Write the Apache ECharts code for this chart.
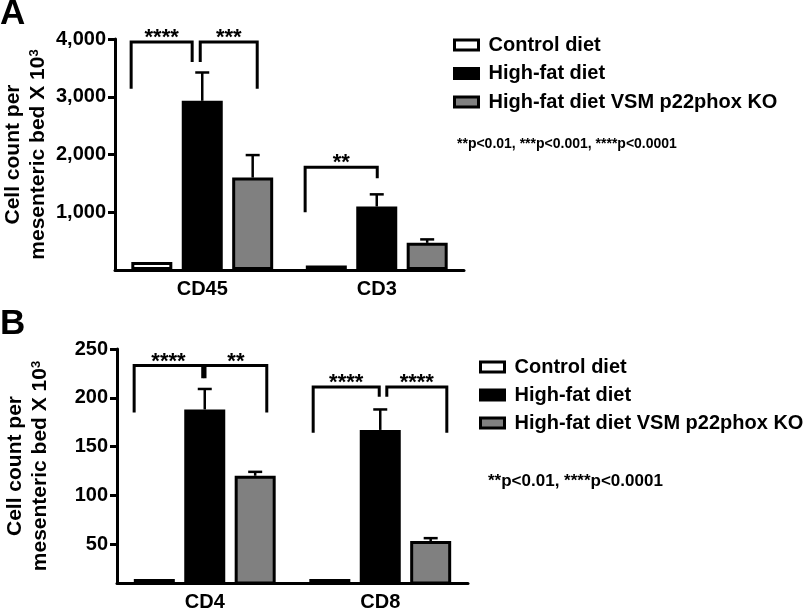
<!DOCTYPE html>
<html>
<head>
<meta charset="utf-8">
<script src="https://cdn.jsdelivr.net/npm/echarts@6/dist/echarts.min.js"></script>
<style>html,body{margin:0;padding:0;background:#fff}#c{width:805px;height:610px}</style>
</head>
<body>
<div id="c"></div>
<script>
// ---------------- data ----------------
const seriesNames = ['Control diet', 'High-fat diet', 'High-fat diet VSM p22phox KO'];

const categoriesA = ['CD45', 'CD3'];
const controlA = [140, 80];
const highFatA = [2930, 1100];
const koA = [1600, 470];
const highFatErrA = [490, 210];
const koErrA = [390, 60];
const ticksA = [1000, 2000, 3000, 4000];

const categoriesB = ['CD4', 'CD8'];
const controlB = [14, 14];
const highFatB = [188, 167];
const koB = [120, 53];
const highFatErrB = [21, 21];
const koErrB = [4, 3];
const ticksB = [50, 100, 150, 200, 250];

// significance brackets: [category, top value, left leg end, right leg end]
const bracketsA = [[0, 3950, 3140, 3600], [0, 3950, 3600, 3140], [1, 1780, 1000, 1590]];
const bracketLabelsA = ['****', '***', '**'];
const bracketsB = [[0, 233, 185, 220], [0, 233, 220, 185], [1, 211, 164, 201], [1, 211, 201, 164]];
const bracketLabelsB = ['****', '**', '****', '****'];

const pTextA = '**p<0.01, ***p<0.001, ****p<0.0001';
const pTextB = '**p<0.01, ****p<0.0001';

// ---------------- layout / style ----------------
const FONT = '"Liberation Sans", Arial, Helvetica, sans-serif';
const BAR_W = 41;
const BAR_GAP = 0.23;
const SLOT = BAR_W * (1 + BAR_GAP);
// bracket leg x positions, in bar-slot units relative to category centre
const bracketXA = [[-1.41, -0.2], [-0.04, 1.09], [-1.42, 0.01]];
const bracketXB = [[-1.40, -0.04], [0.005, 1.23], [-1.33, -0.02], [0.13, 1.32]];
const colors = ['#ffffff', '#000000', '#808080'];

function bracketRender(xs, labels) {
  return function (params, api) {
    const i = params.dataIndex;
    const cat = api.value(0);
    const top = api.coord([cat, api.value(1)]);
    const yl = api.coord([cat, api.value(2)])[1];
    const yr = api.coord([cat, api.value(3)])[1];
    const xl = top[0] + xs[i][0] * SLOT;
    const xr = top[0] + xs[i][1] * SLOT;
    return {
      type: 'group',
      children: [
        { type: 'polyline', shape: { points: [[xl, yl], [xl, top[1]], [xr, top[1]], [xr, yr]] },
          style: { stroke: '#000', lineWidth: 3, fill: null, lineJoin: 'miter' } },
        { type: 'text', x: (xl + xr) / 2, y: top[1] + 7,
          style: { text: labels[i], font: 'bold 22px ' + FONT, fill: '#000', align: 'center', verticalAlign: 'bottom' } }
      ]
    };
  };
}

function errRender(slotIndex) {
  return function (params, api) {
    const cat = api.value(0);
    const p0 = api.coord([cat, api.value(1)]);
    const p1 = api.coord([cat, api.value(1) + api.value(2)]);
    const x = p0[0] + (slotIndex - 1) * SLOT;
    return {
      type: 'group',
      children: [
        { type: 'line', shape: { x1: x, y1: p0[1], x2: x, y2: p1[1] }, style: { stroke: '#000', lineWidth: 2.5 } },
        { type: 'line', shape: { x1: x - 7, y1: p1[1], x2: x + 7, y2: p1[1] }, style: { stroke: '#000', lineWidth: 2.5 } }
      ]
    };
  };
}

function yAxis(gi, max, min, ticks, fmt) {
  return {
    type: 'value', gridIndex: gi, min: min, max: max,
    axisLine: { show: true, lineStyle: { color: '#000', width: 3 } },
    axisTick: { show: true, length: 7, lineStyle: { color: '#000', width: 3 }, customValues: ticks },
    axisLabel: { customValues: ticks, formatter: fmt, fontFamily: FONT, fontWeight: 'bold', fontSize: 20, color: '#000', margin: 9 },
    splitLine: { show: false },
    name: 'Cell count per\nmesenteric bed X 10{sup|3}',
    nameLocation: 'middle', nameRotate: 90, nameGap: 64,
    nameTextStyle: {
      fontFamily: FONT, fontWeight: 'bold', fontSize: 21, color: '#000', lineHeight: 25, align: 'center',
      rich: { sup: { fontFamily: FONT, fontWeight: 'bold', fontSize: 13, color: '#000', padding: [0, 0, 9, 0] } }
    }
  };
}

function xAxis(gi, cats) {
  return {
    type: 'category', gridIndex: gi, data: cats,
    axisLine: { show: true, lineStyle: { color: '#000', width: 3 } },
    axisTick: { show: false },
    axisLabel: { fontFamily: FONT, fontWeight: 'bold', fontSize: 20, color: '#000', margin: 9 }
  };
}

function bars(gi, vals) {
  return vals.map((v, k) => ({
    name: seriesNames[k], type: 'bar', xAxisIndex: gi, yAxisIndex: gi,
    barWidth: BAR_W, barGap: (BAR_GAP * 100) + '%',
    itemStyle: { color: colors[k], borderColor: '#000', borderWidth: 3 },
    data: v, z: 2
  }));
}

function zipErr(vals, errs) { return vals.map((v, i) => [i, v, errs[i]]); }

function legend(left, top, gap) {
  return {
    orient: 'vertical', left: left, top: top, itemGap: gap,
    itemWidth: 24, itemHeight: 10, icon: 'rect',
    itemStyle: { borderColor: '#000', borderWidth: 3 },
    data: seriesNames, selectedMode: false,
    textStyle: { fontFamily: FONT, fontWeight: 'bold', fontSize: 20, color: '#000', lineHeight: 22, padding: [0, 0, 0, 5] }
  };
}

const fmtA = v => v.toLocaleString('en-US');
const fmtB = v => String(v);

const option = {
  animation: false,
  backgroundColor: '#fff',
  grid: [
    { left: 115, top: 39, width: 349, height: 231, outerBoundsMode: 'none' },
    { left: 117, top: 349, width: 351, height: 234, outerBoundsMode: 'none' }
  ],
  xAxis: [xAxis(0, categoriesA), xAxis(1, categoriesB)],
  yAxis: [yAxis(0, 4000, 0, ticksA, fmtA), yAxis(1, 250, 10, ticksB, fmtB)],
  legend: [legend(448, 29, 6.5), legend(474, 351, 6)],
  graphic: [
    { type: 'text', left: 0, top: -3, style: { text: 'A', font: 'bold 35px ' + FONT, fill: '#000' } },
    { type: 'text', left: 0, top: 307, style: { text: 'B', font: 'bold 35px ' + FONT, fill: '#000' } },
    { type: 'text', left: 457, top: 137, style: { text: pTextA, font: 'bold 14px ' + FONT, fill: '#000' } },
    { type: 'text', left: 488, top: 473, style: { text: pTextB, font: 'bold 17px ' + FONT, fill: '#000' } }
  ],
  series: [].concat(
    bars(0, [controlA, highFatA, koA]),
    bars(1, [controlB, highFatB, koB]),
    [
      { type: 'custom', xAxisIndex: 0, yAxisIndex: 0, renderItem: errRender(1), data: zipErr(highFatA, highFatErrA), z: 1, silent: true },
      { type: 'custom', xAxisIndex: 0, yAxisIndex: 0, renderItem: errRender(2), data: zipErr(koA, koErrA), z: 1, silent: true },
      { type: 'custom', xAxisIndex: 1, yAxisIndex: 1, renderItem: errRender(1), data: zipErr(highFatB, highFatErrB), z: 1, silent: true },
      { type: 'custom', xAxisIndex: 1, yAxisIndex: 1, renderItem: errRender(2), data: zipErr(koB, koErrB), z: 1, silent: true },
      { type: 'custom', xAxisIndex: 0, yAxisIndex: 0, renderItem: bracketRender(bracketXA, bracketLabelsA), data: bracketsA, z: 3, silent: true, clip: false },
      { type: 'custom', xAxisIndex: 1, yAxisIndex: 1, renderItem: bracketRender(bracketXB, bracketLabelsB), data: bracketsB, z: 3, silent: true, clip: false }
    ]
  )
};

const chart = echarts.init(document.getElementById('c'), null, { renderer: 'canvas' });
chart.setOption(option);
</script>
</body>
</html>
